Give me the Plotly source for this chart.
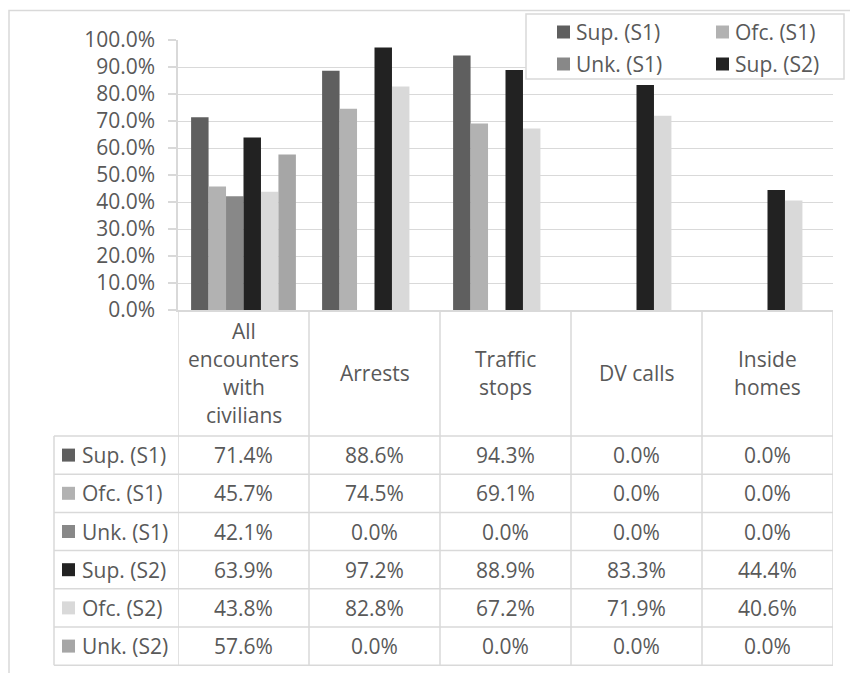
import plotly.graph_objects as go

# ---- data -------------------------------------------------------------
categories = ["All encounters with civilians", "Arrests", "Traffic stops",
              "DV calls", "Inside homes"]
category_lines = [["All", "encounters", "with", "civilians"], ["Arrests"],
                  ["Traffic", "stops"], ["DV calls"], ["Inside", "homes"]]

series_names = ["Sup. (S1)", "Ofc. (S1)", "Unk. (S1)",
                "Sup. (S2)", "Ofc. (S2)", "Unk. (S2)"]
sup_s1 = [71.4, 88.6, 94.3, 0.0, 0.0]
ofc_s1 = [45.7, 74.5, 69.1, 0.0, 0.0]
unk_s1 = [42.1, 0.0, 0.0, 0.0, 0.0]
sup_s2 = [63.9, 97.2, 88.9, 83.3, 44.4]
ofc_s2 = [43.8, 82.8, 67.2, 71.9, 40.6]
unk_s2 = [57.6, 0.0, 0.0, 0.0, 0.0]
series_values = [sup_s1, ofc_s1, unk_s1, sup_s2, ofc_s2, unk_s2]

y_ticks = [0, 10, 20, 30, 40, 50, 60, 70, 80, 90, 100]
y_tick_labels = [f"{v:.1f}%" for v in y_ticks]
legend_entries = ["Sup. (S1)", "Ofc. (S1)", "Unk. (S1)", "Sup. (S2)"]

# ---- styling ----------------------------------------------------------
colors = ["#5f5f5f", "#b2b2b2", "#888888", "#222222", "#d9d9d9", "#a6a6a6"]
W, H = 850, 673
FONT = "Open Sans"
TXT = "#595959"
LINE = "#d9d9d9"
FS = 21


def px(x):
    return x / W


def py(y):
    return 1 - y / H


# layout of plot and table (pixels)
plot_left, plot_right = 178, 833
plot_top, plot_bottom = 40, 310
header_bottom = 436
row_h = 38.2
legend_col_left = 54
n_rows = len(series_names)
table_bottom = header_bottom + row_h * n_rows

idx = list(range(len(categories)))

fig = go.Figure()
for name, vals, col in zip(series_names, series_values, colors):
    fig.add_trace(go.Bar(x=idx, y=vals, name=name, marker_color=col,
                         marker_line_width=0, hoverinfo="skip"))

shapes = []
annotations = []

# outer chart border
shapes.append(dict(type="rect", xref="paper", yref="paper",
                   x0=px(9), x1=px(W + 5), y0=py(10.5), y1=py(H + 5),
                   line=dict(color=LINE, width=1.5), layer="below"))

# table: vertical category boundaries
for k in range(len(categories) + 1):
    shapes.append(dict(type="line", xref="x", yref="paper",
                       x0=k - 0.5, x1=k - 0.5, y0=py(plot_bottom), y1=py(table_bottom),
                       line=dict(color=LINE, width=1.5)))
# table: left legend column border
shapes.append(dict(type="line", xref="paper", yref="paper",
                   x0=px(legend_col_left), x1=px(legend_col_left),
                   y0=py(header_bottom), y1=py(table_bottom),
                   line=dict(color=LINE, width=1.5)))
# table: horizontal row lines
for r in range(n_rows + 1):
    yy = header_bottom + r * row_h
    shapes.append(dict(type="line", xref="paper", yref="paper",
                       x0=px(legend_col_left), x1=px(plot_right),
                       y0=py(yy), y1=py(yy), line=dict(color=LINE, width=1.5)))

# header row: category names, one annotation per line
header_mid = (plot_bottom + header_bottom) / 2
line_gap = 28
for k, lines in enumerate(category_lines):
    n = len(lines)
    for i, t in enumerate(lines):
        yy = header_mid + (i - (n - 1) / 2) * line_gap
        annotations.append(dict(x=k, xref="x", y=py(yy), yref="paper", text=t,
                                showarrow=False, xanchor="center", yanchor="middle",
                                font=dict(family=FONT, size=FS, color=TXT)))

# table body: series key + values
for r, (name, vals, col) in enumerate(zip(series_names, series_values, colors)):
    yc = header_bottom + (r + 0.5) * row_h
    shapes.append(dict(type="rect", xref="paper", yref="paper",
                       x0=px(62), x1=px(75), y0=py(yc - 6.5), y1=py(yc + 6.5),
                       fillcolor=col, line=dict(width=0)))
    annotations.append(dict(x=px(80), xref="paper", y=py(yc), yref="paper",
                            text=name, showarrow=False, xanchor="left", yanchor="middle",
                            font=dict(family=FONT, size=FS, color=TXT)))
    for k, v in enumerate(vals):
        annotations.append(dict(x=k, xref="x", y=py(yc), yref="paper",
                                text=f"{v:.1f}%", showarrow=False,
                                xanchor="center", yanchor="middle",
                                font=dict(family=FONT, size=FS, color=TXT)))

# legend box (2 x 2 entries)
shapes.append(dict(type="rect", xref="paper", yref="paper",
                   x0=px(526), x1=px(844), y0=py(14), y1=py(79),
                   fillcolor="white", line=dict(color=LINE, width=1.5)))
legend_cols = [557, 716]
legend_rows = [32, 64]
for j, name in enumerate(legend_entries):
    col_i, row_i = j % 2, j // 2
    mx, my = legend_cols[col_i], legend_rows[row_i]
    c = colors[series_names.index(name)]
    shapes.append(dict(type="rect", xref="paper", yref="paper",
                       x0=px(mx), x1=px(mx + 13), y0=py(my - 6.5), y1=py(my + 6.5),
                       fillcolor=c, line=dict(width=0)))
    annotations.append(dict(x=px(mx + 17), xref="paper", y=py(my), yref="paper",
                            text=name, showarrow=False, xanchor="left", yanchor="middle",
                            font=dict(family=FONT, size=FS, color=TXT)))

fig.update_layout(
    width=W, height=H,
    margin=dict(l=0, r=0, t=0, b=0, pad=0, autoexpand=False),
    paper_bgcolor="white", plot_bgcolor="white",
    barmode="group", bargap=0.2, bargroupgap=0,
    showlegend=False,
    shapes=shapes, annotations=annotations,
    font=dict(family=FONT, size=FS, color=TXT),
    xaxis=dict(domain=[px(plot_left), px(plot_right)], range=[-0.5, 4.5],
               showticklabels=False, ticks="", showgrid=False, zeroline=False,
               showline=True, linecolor=LINE, linewidth=1.5, fixedrange=True,
               automargin=False),
    yaxis=dict(domain=[py(plot_bottom), py(plot_top)], range=[0, 100],
               tickmode="array", tickvals=y_ticks, ticktext=y_tick_labels,
               showgrid=True, gridcolor=LINE, gridwidth=1, zeroline=False,
               showline=True, linecolor=LINE, linewidth=1.5,
               ticks="outside", ticklen=8, tickcolor=LINE, tickwidth=1.5,
               ticklabelstandoff=9, automargin=False,
               tickfont=dict(family=FONT, size=FS, color=TXT), fixedrange=True),
)

fig.write_html("out.html", config={"displayModeBar": False})
